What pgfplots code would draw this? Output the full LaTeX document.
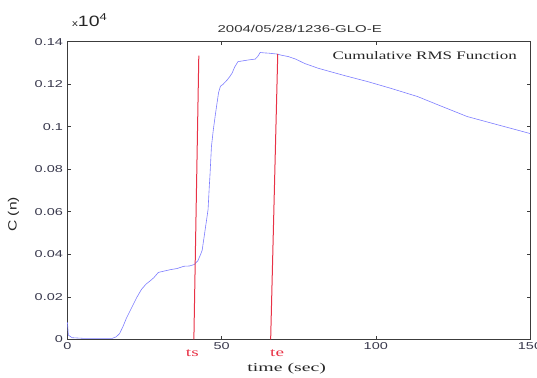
\documentclass[border=0pt]{standalone}
\usepackage{fontspec}
\setmainfont{Liberation Serif}
\setsansfont{Liberation Sans}
\usepackage{graphicx}
\usepackage{pgfplots}
\pgfplotsset{compat=1.18}
\usetikzlibrary{calc}
\definecolor{curve}{RGB}{125,125,255}
\definecolor{redl}{RGB}{232,50,70}
\definecolor{frame}{RGB}{60,60,60}
\definecolor{tlab}{RGB}{55,55,75}
\newcommand\sx[1]{\scalebox{1.45}[1]{#1}}
\begin{document}
\begin{tikzpicture}[x=1pt,y=1pt]
\begin{axis}[
  width=463pt, height=298pt, scale only axis,
  xmin=0, xmax=150, ymin=0, ymax=0.14,
  xtick={0,50,100,150},
  ytick={0,0.02,0.04,0.06,0.08,0.1,0.12,0.14},
  yticklabels={\sx{0},\sx{0.02},\sx{0.04},\sx{0.06},\sx{0.08},\sx{0.1},\sx{0.12},\sx{0.14}},
  xticklabels={\sx{0},\sx{50},\sx{100},\sx{150}},
  tick align=inside, ticks=major, major tick length=3.5pt,
  xtick pos=both, ytick pos=both,
  axis line style={frame, line width=0.8pt},
  tick style={frame, line width=0.6pt},
  ticklabel style={font=\sffamily\fontsize{10}{11}\selectfont, text=tlab},
  /pgf/number format/assume math mode=true,
  xticklabel style={yshift=0pt},
  yticklabel style={xshift=-1pt},
  clip=false,
]
\addplot[curve, line width=0.6pt] coordinates {
(0,0.008) (0.3,0.002) (1.5,0.0008) (5,0.0005) (10,0.0005) (14.6,0.0005)
(15.8,0.0012) (16.9,0.0027) (18,0.006) (19.1,0.0099) (20.5,0.014) (22.4,0.0195)
(24.0,0.0235) (25.5,0.026) (26.8,0.0275) (28,0.029) (29.5,0.0315) (31,0.032)
(33.4,0.0328) (35.5,0.0333) (37.8,0.0344) (39.5,0.0345) (41.1,0.0352) (42.3,0.037)
(43.2,0.040) (43.7,0.042) (44.4,0.049) (44.8,0.053) (45.6,0.061) (46.0,0.072)
(46.2,0.0766) (46.7,0.0907) (47.3,0.0985) (48.0,0.106) (48.5,0.111) (49.0,0.116)
(49.6,0.119) (50.5,0.120) (51.8,0.122) (52.6,0.1235) (53.4,0.1252) (54.2,0.128)
(55.3,0.1306) (57,0.131) (58.7,0.1314) (60.9,0.1318) (61.7,0.133) (62.5,0.1349)
(64,0.1347) (65.2,0.1346) (67.8,0.1342) (69.5,0.1336) (71.6,0.133) (74,0.1318)
(77,0.1297) (81.3,0.1275) (85,0.126) (90,0.124) (97.4,0.1212) (105,0.118)
(113.5,0.1142) (121,0.1098) (129.6,0.1048) (138,0.1015) (148,0.0976) (150,0.0968)
};
\addplot[redl, line width=1pt] coordinates {(41.0,0) (42.6,0.1334)};
\addplot[redl, line width=1pt] coordinates {(65.9,0) (68.2,0.1343)};
\node[text=redl, font=\fontsize{12}{13}\selectfont, anchor=base] at (axis cs:40.5,0) [yshift=-17pt] {\scalebox{1.6}[1]{ts}};
\node[text=redl, font=\fontsize{12}{13}\selectfont, anchor=base] at (axis cs:68.0,0) [yshift=-17pt] {\scalebox{1.6}[1]{te}};
\node[anchor=base east, font=\fontsize{11.5}{12}\selectfont, text=black!85, inner sep=0pt] at (rel axis cs:1,1) [xshift=-13pt, yshift=-18pt] {\scalebox{1.48}[1]{Cumulative RMS Function}};
\node[anchor=base, font=\sffamily\fontsize{10}{11}\selectfont, text=black!80, inner sep=0pt] at (rel axis cs:0.5,1) [xshift=1pt, yshift=9.4pt] {\scalebox{1.5}[1]{2004/05/28/1236-GLO-E}};
\node[anchor=base, font=\fontsize{12}{13}\selectfont, text=black!85, inner sep=0pt] at (rel axis cs:0.474,0) [yshift=-32.5pt] {\scalebox{1.65}[1]{time (sec)}};
\coordinate (yl) at (rel axis cs:0,0.42);
\node[anchor=base west, font=\sffamily, text=black!85, inner sep=0pt] at (rel axis cs:0,1) [xshift=4.5pt, yshift=15.5pt] {\scalebox{1.3}[1]{{\fontsize{9}{10}\selectfont x}{\fontsize{15}{16}\selectfont 10}\raisebox{6pt}{\fontsize{10}{11}\selectfont 4}}};
\end{axis}
\node[rotate=90, anchor=center, font=\sffamily\fontsize{12}{13}\selectfont, text=black!85, inner sep=0pt] at ($(yl)+(-54pt,0)$) {\scalebox{1.3}[1]{C (n)}};
\pgfresetboundingbox
\path ($(current axis.south west)+(-67.5pt,-38.3pt)$) rectangle ($(current axis.north east)+(7pt,41.7pt)$);
\end{tikzpicture}
\end{document}
